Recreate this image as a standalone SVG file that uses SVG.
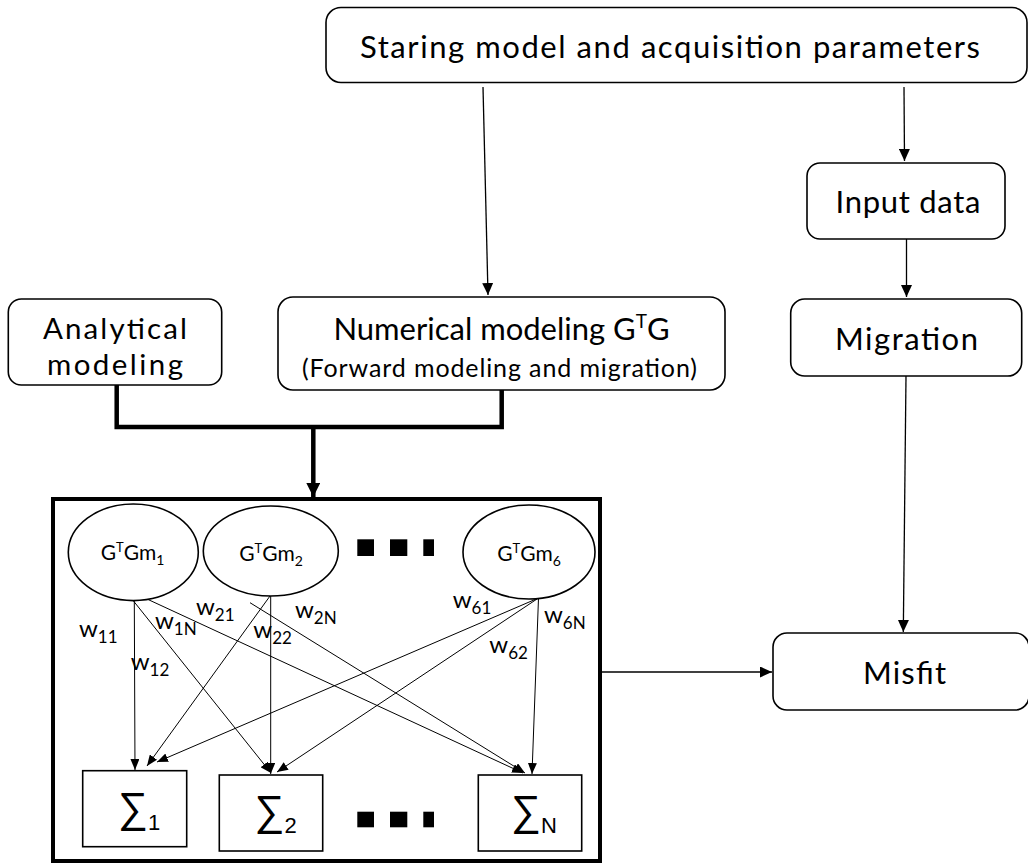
<svg xmlns="http://www.w3.org/2000/svg" width="1028" height="865" viewBox="0 0 1028 865">
<style>
text{font-family:Lato,"Liberation Sans",sans-serif;fill:#000}
.big{font-size:31px}
.an{font-size:29.5px}
.mid{font-size:25px}
.el{font-size:21px}
.w{font-size:24px}
.sig{font-size:42px;font-family:"Liberation Sans",Lato,sans-serif}
.box{fill:#fff;stroke:#000;stroke-width:1.6}
.cn{fill:none;stroke:#000;stroke-width:1.3}
.th{fill:none;stroke:#000;stroke-width:4.5}
.in{fill:none;stroke:#000;stroke-width:1}
</style>
<defs>
<marker id="ah" viewBox="0 0 12 11" refX="12" refY="5.5" markerWidth="12" markerHeight="11" markerUnits="userSpaceOnUse" orient="auto"><path d="M0,0 L12,5.5 L0,11 z"/></marker>
<marker id="ahb" viewBox="0 0 14 14" refX="14" refY="7" markerWidth="14" markerHeight="14" markerUnits="userSpaceOnUse" orient="auto"><path d="M0,0 L14,7 L0,14 z"/></marker>
<marker id="ahs" viewBox="0 0 11 9" refX="11" refY="4.5" markerWidth="11" markerHeight="9" markerUnits="userSpaceOnUse" orient="auto"><path d="M0,0 L11,4.5 L0,9 z"/></marker>
</defs>
<rect width="1028" height="865" fill="#fff"/>

<g id="connectors">
<line class="cn" x1="483" y1="87" x2="488" y2="295" marker-end="url(#ah)"/>
<line class="cn" x1="904" y1="87" x2="904.5" y2="161" marker-end="url(#ah)"/>
<line class="cn" x1="906.5" y1="239" x2="906.5" y2="297" marker-end="url(#ah)"/>
<line class="cn" x1="906" y1="376" x2="903.3" y2="632" marker-end="url(#ah)"/>
<line class="cn" x1="601" y1="672" x2="772" y2="672" marker-end="url(#ah)"/>
<path class="th" d="M116.7,385 V427 H501.7 V390"/>
<line class="th" x1="313.3" y1="427" x2="313.3" y2="497" marker-end="url(#ahb)"/>
<line class="in" x1="134.3" y1="601" x2="135" y2="770" marker-end="url(#ahs)"/>
<line class="in" x1="270" y1="596" x2="147" y2="766" marker-end="url(#ahs)"/>
<line class="in" x1="538.5" y1="598" x2="157" y2="762" marker-end="url(#ahs)"/>
<line class="in" x1="133.5" y1="601" x2="271" y2="773" marker-end="url(#ahs)"/>
<line class="in" x1="270.7" y1="596" x2="270.7" y2="774" marker-end="url(#ahs)"/>
<line class="in" x1="538.5" y1="598" x2="277" y2="772" marker-end="url(#ahs)"/>
<line class="in" x1="143.3" y1="597.3" x2="523" y2="773" marker-end="url(#ahs)"/>
<line class="in" x1="250" y1="602.7" x2="525" y2="773" marker-end="url(#ahs)"/>
<line class="in" x1="538.5" y1="598" x2="532" y2="774" marker-end="url(#ahs)"/>
</g>

<g id="start">
<rect class="box" x="326" y="7.5" width="701" height="75" rx="15"/>
<text class="big" x="670" y="58" text-anchor="middle" textLength="620">Staring model and acquisition parameters</text>
</g>

<g id="input">
<rect class="box" x="807" y="163" width="198" height="76" rx="13"/>
<text class="big" x="908" y="213" text-anchor="middle" textLength="145">Input data</text>
</g>

<g id="migration">
<rect class="box" x="790.7" y="299" width="231" height="77" rx="14"/>
<text class="big" x="906.5" y="350" text-anchor="middle" textLength="143">Migration</text>
</g>

<g id="misfit">
<rect class="box" x="773" y="633" width="256" height="77" rx="14"/>
<text class="big" x="904.5" y="684" text-anchor="middle" textLength="83">Misfit</text>
</g>

<g id="analytical">
<rect class="box" x="8.3" y="299" width="213.4" height="86" rx="13"/>
<text class="big an" x="115" y="339" text-anchor="middle" textLength="144">Analytical</text>
<text class="big an" x="115" y="375" text-anchor="middle" textLength="136">modeling</text>
</g>

<g id="numerical">
<rect class="box" x="278" y="297" width="447" height="93" rx="15"/>
<text class="big" x="501.5" y="340" text-anchor="middle">Numerical modeling G<tspan dy="-12" font-size="19">T</tspan><tspan dy="12">G</tspan></text>
<text class="mid" x="499.5" y="377" text-anchor="middle" textLength="395">(Forward modeling and migration)</text>
</g>

<g id="network">
<rect x="53" y="499" width="547" height="362" fill="none" stroke="#000" stroke-width="4"/>
</g>

<g id="gtgm1">
<ellipse class="box" cx="133.3" cy="552.3" rx="65" ry="48.3"/>
<text class="el" x="132.5" y="560" text-anchor="middle">G<tspan dy="-8" font-size="13">T</tspan><tspan dy="8">Gm</tspan><tspan dy="5" font-size="14">1</tspan></text>
</g>
<g id="gtgm2">
<ellipse class="box" cx="270.8" cy="551" rx="67.5" ry="45"/>
<text class="el" x="271" y="561" text-anchor="middle">G<tspan dy="-8" font-size="13">T</tspan><tspan dy="8">Gm</tspan><tspan dy="5" font-size="14">2</tspan></text>
</g>
<g id="gtgm6">
<ellipse class="box" cx="529" cy="552" rx="66" ry="47"/>
<text class="el" x="529" y="560.5" text-anchor="middle">G<tspan dy="-8" font-size="13">T</tspan><tspan dy="8">Gm</tspan><tspan dy="5" font-size="14">6</tspan></text>
</g>

<g id="dots-top">
<rect x="357.3" y="539.3" width="16.7" height="16.7"/>
<rect x="390" y="539.3" width="17.3" height="16.7"/>
<rect x="423.3" y="539.3" width="10.7" height="16.7"/>
</g>

<g id="weights">
<text class="w" x="79" y="637">w<tspan dy="6" font-size="17">11</tspan></text>
<text class="w" x="130.7" y="670">w<tspan dy="6" font-size="17">12</tspan></text>
<text class="w" x="155" y="629.3">w<tspan dy="6" font-size="17">1N</tspan></text>
<text class="w" x="196" y="615">w<tspan dy="6" font-size="17">21</tspan></text>
<text class="w" x="253.3" y="638.3">w<tspan dy="6" font-size="17">22</tspan></text>
<text class="w" x="295" y="618.3">w<tspan dy="6" font-size="17">2N</tspan></text>
<text class="w" x="452.7" y="608.3">w<tspan dy="6" font-size="17">61</tspan></text>
<text class="w" x="489.3" y="653.3">w<tspan dy="6" font-size="17">62</tspan></text>
<text class="w" x="544" y="623.3">w<tspan dy="6" font-size="17">6N</tspan></text>
</g>

<g id="sum1">
<rect class="box" x="82.7" y="770.7" width="104" height="76"/>
<text class="sig" x="118" y="822">∑<tspan dy="8" font-size="22">1</tspan></text>
</g>
<g id="sum2">
<rect class="box" x="219.3" y="775" width="103.4" height="76"/>
<text class="sig" x="254.5" y="825">∑<tspan dy="8" font-size="22">2</tspan></text>
</g>
<g id="sumN">
<rect class="box" x="478.3" y="775" width="103.4" height="76"/>
<text class="sig" x="511" y="825">∑<tspan dy="8" font-size="22">N</tspan></text>
</g>

<g id="dots-bottom">
<rect x="357.3" y="811.7" width="16.7" height="15.6"/>
<rect x="390" y="811.7" width="17.3" height="15.6"/>
<rect x="423.3" y="811.7" width="10.7" height="15.6"/>
</g>
</svg>
